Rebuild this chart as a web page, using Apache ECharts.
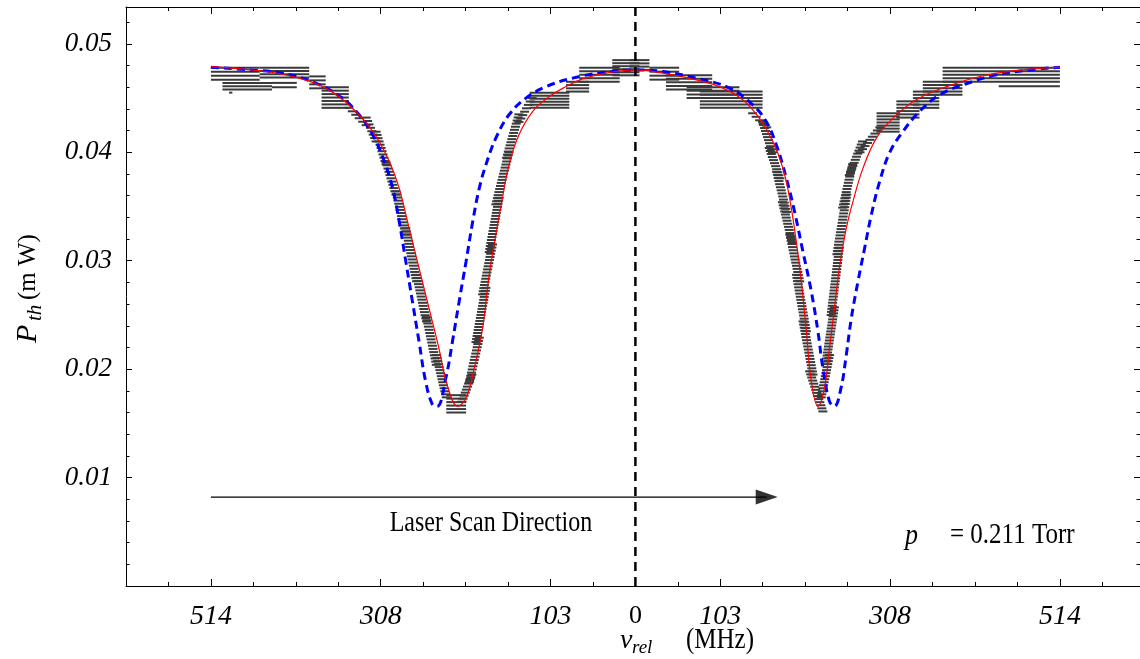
<!DOCTYPE html>
<html>
<head>
<meta charset="utf-8">
<script src="https://cdn.jsdelivr.net/npm/echarts@6/dist/echarts.min.js"></script>
<style>
  html, body { margin: 0; padding: 0; background: #fff; }
  #chart { width: 1140px; height: 659px; }
</style>
</head>
<body>
<div id="chart"></div>
<script>
// Threshold pump power versus relative laser frequency (MHz), p = 0.211 Torr.

// Axis ticks (MHz, mW)
const xTickValues = [-514, -308.4, -102.8, 0, 102.8, 308.4, 514];
const xTickLabels = ['514', '308', '103', '0', '103', '308', '514'];
const yTickValues = [0.01, 0.02, 0.03, 0.04, 0.05];
const yTickLabels = ['0.01', '0.02', '0.03', '0.04', '0.05'];

// Fitted curve (solid red)
const fitX = [-514, -448, -407, -375, -347, -318, -298, -286, -274, -262, -250, -238, -228, -215,
  -205, -195, -185, -177, -169, -161, -153, -141, -124.5, -104, -84, -64, -35.5, 0,
  33, 73.6, 106, 130, 150, 166.5, 178.6, 186.7, 194.8, 200.9, 207, 213, 221,
  229, 235, 241, 247, 255.4, 263.5, 275.6, 291.8, 312, 340, 376.7, 417, 457, 514];
const fitP = [0.04791, 0.04745, 0.04684, 0.04592, 0.04438, 0.04192, 0.03915, 0.0367, 0.0330, 0.02933, 0.02564, 0.02195, 0.01857, 0.01657,
  0.01735, 0.02011, 0.0238, 0.02871, 0.0324, 0.03578, 0.03885, 0.04161, 0.04376, 0.04514, 0.04606, 0.04677, 0.0473, 0.0476,
  0.0473, 0.04668, 0.04592, 0.04484, 0.04315, 0.041, 0.03854, 0.03578, 0.03178, 0.02809, 0.02349, 0.01887, 0.01657,
  0.01827, 0.02195, 0.02564, 0.02933, 0.0330, 0.03547, 0.03854, 0.04131, 0.04315, 0.04484, 0.04606, 0.04699, 0.04751, 0.04785];

// Model curve (dashed blue)
const modelX = [-514, -468, -427.6, -387, -355, -334.6, -318, -304, -294, -286, -278, -270, -262, -254, -245.7, -240,
  -229.5, -221.5, -213.4, -205, -197, -189, -181, -169, -153, -132.5, -108, -76, -43.6, 0,
  33, 73.6, 114, 142, 158.4, 170.6, 182.7, 192.7, 202.8, 213, 221, 227, 235, 241,
  249, 255.4, 261.5, 269.5, 277.6, 285.7, 295.8, 308, 324, 344, 368.5, 396.8, 437, 477.6, 514];
const modelP = [0.04785, 0.0476, 0.0473, 0.04638, 0.045, 0.04346, 0.04161, 0.03915, 0.0367, 0.03362, 0.02994, 0.02625, 0.02256, 0.01887, 0.01673, 0.01657,
  0.01919, 0.02256, 0.02625, 0.02994, 0.03362, 0.0367, 0.03885, 0.04131, 0.04346, 0.045, 0.04606, 0.04684, 0.0473, 0.0476,
  0.04745, 0.04684, 0.04592, 0.04438, 0.04284, 0.0407, 0.03762, 0.03454, 0.03086, 0.02717, 0.02349, 0.02011, 0.01703, 0.01657,
  0.01827, 0.02134, 0.02472, 0.02809, 0.03117, 0.03424, 0.03731, 0.04, 0.04192, 0.04376, 0.0453, 0.04622, 0.04714, 0.0476, 0.04785];

// Measured points, grouped in short runs: frequency where a run is highest / lowest (MHz)
// and its highest / lowest power (mW)
const bandXHigh = [-514, -500, -492, -455, -440, -395, -380, -347, -326, -314, -302, -290, -278, -265, -253, -241, -229,
  -198, -189, -181, -173, -165, -153, -141, -125, -128, -84, -68, -28,
  -7, 17, 37, 62, 78, 142, 154, 162, 171, 178, 187, 195, 203, 211,
  235, 241, 247, 256, 263, 275, 296, 292, 316, 336, 348, 372, 440];
const bandXLow = [-455, -440, -488, -395, -410, -375, -347, -326, -314, -302, -290, -278, -265, -253, -241, -229, -205,
  -210, -201, -193, -185, -177, -169, -156, -141, -80, -56, -19, 5,
  17, 53, 93, 126, 154, 159, 166, 175, 183, 190, 199, 207, 215, 227,
  225, 231, 237, 244, 251, 259, 272, 320, 344, 368, 396, 514, 514];
const bandHigh = [0.0478, 0.0464, 0.0455, 0.0478, 0.0464, 0.0470, 0.0460, 0.0441, 0.0432, 0.0419, 0.0391, 0.0364, 0.0330, 0.0287, 0.0248, 0.0213, 0.0176,
  0.0195, 0.0229, 0.0275, 0.0315, 0.0358, 0.0400, 0.0435, 0.0450, 0.0455, 0.0465, 0.0478, 0.0485,
  0.0485, 0.0478, 0.0471, 0.0460, 0.0456, 0.0436, 0.0428, 0.0404, 0.0382, 0.0354, 0.0324, 0.0287, 0.0244, 0.0198,
  0.0213, 0.0257, 0.0312, 0.0361, 0.0389, 0.0410, 0.0423, 0.0436, 0.0447, 0.0456, 0.0465, 0.0478, 0.0461];
const bandLow = [0.0467, 0.0458, 0.0453, 0.0469, 0.0460, 0.0459, 0.0441, 0.0425, 0.0410, 0.0389, 0.0361, 0.0324, 0.0281, 0.0244, 0.0204, 0.0174, 0.0160,
  0.0170, 0.0188, 0.0225, 0.0269, 0.0308, 0.0352, 0.0395, 0.0428, 0.0441, 0.0456, 0.0465, 0.0471,
  0.0476, 0.0467, 0.0458, 0.0450, 0.0441, 0.0423, 0.0400, 0.0376, 0.0345, 0.0317, 0.0281, 0.0235, 0.0195, 0.0161,
  0.0174, 0.0207, 0.0250, 0.0306, 0.0349, 0.0379, 0.0400, 0.0419, 0.0432, 0.0441, 0.0453, 0.0465, 0.0459];

// Scan-direction arrow (MHz, mW)
const scanFrom = -514;
const scanHead = 159;
const scanLevel = 0.0082;

const X_MIN = -616.8, X_MAX = 611, X_STEP = 51.4;
const Y_MIN = 0, Y_MAX = 0.0534, Y_STEP = 0.002;
const SERIF = '"Liberation Serif", "Times New Roman", serif';

const gridBox = { left: 126, right: -1, top: 7, bottom: 73 };

function xAxisDef(gridIndex, position, major, withLabels) {
  return {
    type: 'value', gridIndex, position, min: X_MIN, max: X_MAX, interval: X_STEP,
    splitLine: { show: false },
    axisLine: { show: !major, onZero: false, lineStyle: { color: '#000', width: 1 } },
    axisTick: major
      ? { show: true, inside: true, length: 7, customValues: xTickValues, lineStyle: { color: '#000', width: 1 } }
      : { show: true, inside: true, length: 4, lineStyle: { color: '#000', width: 1 } },
    axisLabel: withLabels ? {
      show: true,
      customValues: xTickValues,
      margin: 17,
      color: '#000',
      fontFamily: SERIF,
      fontSize: 28,
      fontStyle: 'italic',
      formatter: function (v) {
        let k = 0;
        xTickValues.forEach((t, i) => { if (Math.abs(t - v) < Math.abs(xTickValues[k] - v)) k = i; });
        return Math.abs(v) < 1e-9 ? '{u|' + xTickLabels[k] + '}' : xTickLabels[k];
      },
      rich: { u: { fontStyle: 'normal', fontFamily: SERIF, fontSize: 26, color: '#000' } }
    } : { show: false }
  };
}

function yAxisDef(gridIndex, position, major, withLabels) {
  return {
    type: 'value', gridIndex, position, min: Y_MIN, max: Y_MAX, interval: Y_STEP,
    splitLine: { show: false },
    axisLine: { show: !major, onZero: false, lineStyle: { color: '#000', width: 1 } },
    axisTick: major
      ? { show: true, inside: true, length: 6, customValues: yTickValues, lineStyle: { color: '#000', width: 1 } }
      : { show: true, inside: true, length: 3.5, lineStyle: { color: '#000', width: 1 } },
    axisLabel: withLabels ? {
      show: true,
      customValues: yTickValues,
      margin: 14,
      color: '#000',
      fontFamily: SERIF,
      fontSize: 27,
      fontStyle: 'italic',
      formatter: function (v) {
        let k = 0;
        yTickValues.forEach((t, i) => { if (Math.abs(t - v) < Math.abs(yTickValues[k] - v)) k = i; });
        return yTickLabels[k];
      }
    } : { show: false }
  };
}

// Each run of measured points is drawn as stacked horizontal dashes: steep runs follow
// the slope from their high end to their low end, flat runs fill their whole width.
function renderMeasured(params, api) {
  const a = api.coord([api.value(0), api.value(2)]);
  const b = api.coord([api.value(1), api.value(3)]);
  const dy = b[1] - a[1];
  const dx = Math.abs(b[0] - a[0]);
  const children = [];
  const rows = Math.max(1, Math.floor(dy / 3) + 1);
  for (let r = 0; r < rows; r++) {
    const t = rows === 1 ? 0 : r / (rows - 1);
    const y = a[1] + t * dy;
    let x0, w;
    if (dy >= dx) {
      const cx = a[0] + t * (b[0] - a[0]);
      w = 9;
      x0 = cx - w / 2;
    } else {
      x0 = Math.min(a[0], b[0]);
      w = Math.max(2, dx);
    }
    children.push({
      type: 'rect',
      shape: { x: x0, y: y - 1, width: w, height: 2 },
      style: { fill: '#3a3a3a' }
    });
  }
  return { type: 'group', children };
}

const chart = echarts.init(document.getElementById('chart'), null, { renderer: 'canvas' });

const option = {
  backgroundColor: '#fff',
  animation: false,
  grid: [Object.assign({}, gridBox), Object.assign({}, gridBox)],
  xAxis: [
    xAxisDef(0, 'bottom', false, true),
    xAxisDef(0, 'top', false, false),
    xAxisDef(1, 'bottom', true, false),
    xAxisDef(1, 'top', true, false)
  ],
  yAxis: [
    yAxisDef(0, 'left', false, true),
    yAxisDef(0, 'right', false, false),
    yAxisDef(1, 'left', true, false),
    yAxisDef(1, 'right', true, false)
  ],
  series: [
    {
      name: 'measured',
      type: 'custom',
      xAxisIndex: 0, yAxisIndex: 0,
      data: bandXHigh.map((x, i) => [x, bandXLow[i], bandHigh[i], bandLow[i]]),
      encode: { x: [0, 1], y: [2, 3] },
      clip: true,
      silent: true,
      z: 2,
      renderItem: renderMeasured
    },
    {
      name: 'model',
      type: 'line',
      xAxisIndex: 0, yAxisIndex: 0,
      data: modelX.map((x, i) => [x, modelP[i]]),
      smooth: 0.4,
      showSymbol: false,
      symbol: 'none',
      silent: true,
      z: 3,
      lineStyle: { color: '#0000ff', width: 3, type: [8, 5] }
    },
    {
      name: 'fit',
      type: 'line',
      xAxisIndex: 0, yAxisIndex: 0,
      data: fitX.map((x, i) => [x, fitP[i]]),
      smooth: 0.4,
      showSymbol: false,
      symbol: 'none',
      silent: true,
      z: 4,
      lineStyle: { color: '#ff0000', width: 1.2 }
    },
    {
      name: 'zero',
      type: 'line',
      xAxisIndex: 0, yAxisIndex: 0,
      data: [[0, Y_MAX], [0, Y_MIN]],
      showSymbol: false,
      symbol: 'none',
      silent: true,
      z: 5,
      lineStyle: { color: '#000', width: 2.5, type: [9, 6] }
    },
    {
      name: 'scan',
      type: 'line',
      xAxisIndex: 0, yAxisIndex: 0,
      data: [[scanFrom, scanLevel], [scanHead, scanLevel]],
      showSymbol: false,
      symbol: 'none',
      silent: true,
      z: 5,
      lineStyle: { color: '#000', width: 1.2 }
    },
    {
      name: 'scanHead',
      type: 'scatter',
      xAxisIndex: 0, yAxisIndex: 0,
      data: [[scanHead, scanLevel]],
      symbol: 'triangle',
      symbolSize: [15, 22],
      symbolRotate: -90,
      silent: true,
      z: 6,
      itemStyle: { color: '#000' }
    }
  ],
  graphic: [
    // y-axis title: P_th (m W), reading upward
    { type: 'text', x: 28, y: 343, rotation: Math.PI / 2, z: 10,
      style: { text: 'P', font: 'italic 30px ' + SERIF, fill: '#000', align: 'left', verticalAlign: 'middle' } },
    { type: 'text', x: 35, y: 321, rotation: Math.PI / 2, z: 10,
      style: { text: 'th', font: 'italic 21px ' + SERIF, fill: '#000', align: 'left', verticalAlign: 'middle' } },
    { type: 'text', x: 28, y: 300, rotation: Math.PI / 2, z: 10,
      style: { text: '(m W)', font: '25px ' + SERIF, fill: '#000', align: 'left', verticalAlign: 'middle' } },
    // x-axis title: ν_rel (MHz)
    { type: 'text', x: 620, y: 641, z: 10,
      style: { text: 'ν', font: 'italic 28px ' + SERIF, fill: '#000', align: 'left', verticalAlign: 'middle' } },
    { type: 'text', x: 632, y: 648, z: 10,
      style: { text: 'rel', font: 'italic 19px ' + SERIF, fill: '#000', align: 'left', verticalAlign: 'middle' } },
    { type: 'text', x: 686, y: 640, originY: 0, scaleY: 1.15, z: 10,
      style: { text: '(MHz)', font: '25px ' + SERIF, fill: '#000', align: 'left', verticalAlign: 'middle' } },
    // annotations
    { type: 'text', x: 491, y: 523, originY: 0, scaleY: 1.2, z: 10,
      style: { text: 'Laser Scan Direction', font: '24px ' + SERIF, fill: '#000', align: 'center', verticalAlign: 'middle' } },
    { type: 'text', x: 905, y: 536, originY: 0, scaleY: 1.15, z: 10,
      style: { text: 'p', font: 'italic 26px ' + SERIF, fill: '#000', align: 'left', verticalAlign: 'middle' } },
    { type: 'text', x: 950, y: 535, originY: 0, scaleY: 1.15, z: 10,
      style: { text: '= 0.211 Torr', font: '25px ' + SERIF, fill: '#000', align: 'left', verticalAlign: 'middle' } }
  ]
};

chart.setOption(option);
</script>
</body>
</html>
